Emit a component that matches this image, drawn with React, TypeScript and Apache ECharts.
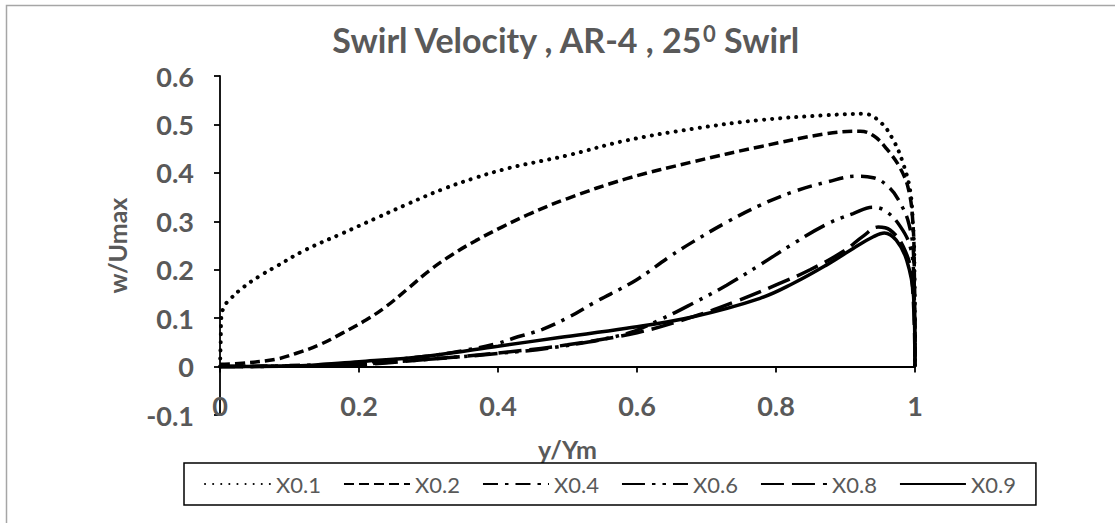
import React, { useEffect, useRef } from "react";
import * as echarts from "echarts";

const seriesNames = ["X0.1", "X0.2", "X0.4", "X0.6", "X0.8", "X0.9"];

const x01 = [0, 0.001, 0.002, 0.006, 0.013, 0.032, 0.056, 0.08, 0.123, 0.176, 0.224, 0.272, 0.32, 0.368, 0.416, 0.464, 0.5, 0.585, 0.681, 0.777, 0.873, 0.926, 0.95, 0.969, 0.983, 0.993, 0.997, 0.999, 1.0];
const y01 = [0, 0.05, 0.103, 0.124, 0.137, 0.162, 0.186, 0.206, 0.241, 0.275, 0.306, 0.337, 0.366, 0.39, 0.41, 0.425, 0.436, 0.467, 0.491, 0.509, 0.519, 0.522, 0.505, 0.467, 0.419, 0.364, 0.296, 0.227, 0];

const x02 = [0, 0.032, 0.08, 0.109, 0.143, 0.176, 0.21, 0.239, 0.272, 0.301, 0.335, 0.368, 0.407, 0.445, 0.5, 0.585, 0.681, 0.777, 0.873, 0.921, 0.94, 0.959, 0.979, 0.991, 0.997, 0.999, 1.0];
const y02 = [0.005, 0.007, 0.015, 0.027, 0.045, 0.069, 0.096, 0.124, 0.163, 0.198, 0.232, 0.26, 0.289, 0.315, 0.347, 0.388, 0.423, 0.454, 0.481, 0.486, 0.477, 0.45, 0.409, 0.364, 0.296, 0.2, 0];

const x04 = [0, 0.1, 0.2, 0.3, 0.35, 0.4, 0.421, 0.464, 0.503, 0.537, 0.599, 0.647, 0.681, 0.729, 0.777, 0.825, 0.873, 0.916, 0.94, 0.964, 0.979, 0.991, 0.998, 1.0];
const y04 = [0, 0.002, 0.008, 0.022, 0.033, 0.048, 0.058, 0.077, 0.103, 0.131, 0.179, 0.227, 0.258, 0.298, 0.333, 0.361, 0.381, 0.393, 0.39, 0.368, 0.337, 0.296, 0.227, 0];

const x06 = [0, 0.1, 0.2, 0.3, 0.4, 0.488, 0.585, 0.632, 0.681, 0.729, 0.777, 0.825, 0.873, 0.911, 0.94, 0.959, 0.979, 0.993, 0.998, 1.0];
const y06 = [0, 0.001, 0.005, 0.015, 0.027, 0.041, 0.068, 0.096, 0.131, 0.168, 0.21, 0.254, 0.294, 0.316, 0.329, 0.32, 0.289, 0.248, 0.193, 0];

const x08 = [0, 0.1, 0.2, 0.3, 0.4, 0.5, 0.6, 0.681, 0.743, 0.801, 0.849, 0.897, 0.926, 0.947, 0.964, 0.983, 0.995, 1.0];
const y08 = [0, 0.001, 0.004, 0.015, 0.028, 0.045, 0.07, 0.103, 0.135, 0.169, 0.2, 0.238, 0.27, 0.288, 0.282, 0.248, 0.189, 0];

const x09 = [0, 0.1, 0.2, 0.3, 0.4, 0.488, 0.585, 0.681, 0.777, 0.825, 0.873, 0.911, 0.94, 0.956, 0.973, 0.988, 0.998, 1.0];
const y09 = [0, 0.001, 0.01, 0.022, 0.042, 0.06, 0.079, 0.103, 0.141, 0.172, 0.21, 0.244, 0.268, 0.276, 0.261, 0.22, 0.144, 0];

const xTickInterval = 0.2;
const yTickInterval = 0.1;

const FONT = "Lato";
const GREY = "#595959";

function zip(xs: number[], ys: number[]) {
  return xs.map((x, i) => [x, ys[i]]);
}

export default function App() {
  const ref = useRef<HTMLDivElement>(null);
  useEffect(() => {
    document.body.style.margin = "0";
    const chart = echarts.init(ref.current!, null, { renderer: "svg" });
    const xsList = [x01, x02, x04, x06, x08, x09];
    const ysList = [y01, y02, y04, y06, y08, y09];
    const styles: any[] = [
      { type: [0.1, 8], cap: "round", width: 4 },
      { type: [10, 5], cap: "butt" },
      { type: [15, 7, 3.5, 7], cap: "butt" },
      { type: [23, 7, 3.5, 7, 3.5, 7], cap: "butt" },
      { type: [23, 8], cap: "butt" },
      { type: "solid", cap: "butt" },
    ];
    const series = seriesNames.map((name, i) => ({
      name,
      type: "line",
      data: zip(xsList[i], ysList[i]),
      symbol: "none",
      smooth: 0.4,
      lineStyle: { color: "#000", width: 3.5, ...styles[i] },
      itemStyle: { color: "#000" },
    }));
    const gridTop = 76;
    const gridHeight = 339;
    const yMin = -0.1;
    const yMax = 0.6;
    const zeroOffset = -(gridHeight * (0 - yMin)) / (yMax - yMin);
    chart.setOption({
      animation: false,
      backgroundColor: "#fff",
      title: {
        text: "Swirl Velocity , AR-4 , 25{sup|0} Swirl",
        left: 560,
        top: 17,
        textAlign: "center",
        textStyle: {
          fontFamily: FONT,
          fontWeight: "bold",
          fontSize: 34,
          color: GREY,
          rich: {
            sup: {
              fontFamily: FONT,
              fontWeight: "bold",
              fontSize: 22,
              color: GREY,
              verticalAlign: "top",
            },
          },
        },
      },
      graphic: [
        {
          type: "rect",
          silent: true,
          shape: { x: 6.5, y: 5.5, width: 2000, height: 2000 },
          style: { fill: "none", stroke: "#a6a6a6", lineWidth: 1.5 },
        },
      ],
      grid: { left: 220, top: gridTop, width: 695, height: gridHeight },
      legend: {
        left: 184,
        top: 463,
        itemWidth: 66,
        itemHeight: 14,
        itemGap: 22,
        padding: [10, 20],
        borderColor: "#000",
        borderWidth: 1.5,
        data: seriesNames,
        itemStyle: { opacity: 0 },
        textStyle: { fontFamily: FONT, fontSize: 22, color: GREY },
      },
      xAxis: {
        type: "value",
        min: 0,
        max: 1,
        interval: xTickInterval,
        position: "bottom",
        offset: zeroOffset,
        axisLine: { show: true, onZero: false, lineStyle: { color: "#000", width: 1.8 } },
        axisTick: { show: true, length: 6, lineStyle: { color: "#000", width: 1.8 } },
        axisLabel: { margin: 25, fontFamily: FONT, fontWeight: "bold", fontSize: 27, color: GREY },
        splitLine: { show: false },
        name: "y/Ym",
        nameLocation: "middle",
        nameGap: 70,
        nameTextStyle: { fontFamily: FONT, fontWeight: "bold", fontSize: 25, color: GREY },
      },
      yAxis: {
        type: "value",
        min: yMin,
        max: yMax,
        interval: yTickInterval,
        axisLine: { show: true, onZero: false, lineStyle: { color: "#000", width: 1.8 } },
        axisTick: { show: true, length: 6, lineStyle: { color: "#000", width: 1.8 } },
        axisLabel: { margin: 26, fontFamily: FONT, fontWeight: "bold", fontSize: 27, color: GREY },
        splitLine: { show: false },
        name: "w/Umax",
        nameLocation: "middle",
        nameGap: 91,
        nameTextStyle: { fontFamily: FONT, fontWeight: "bold", fontSize: 25, color: GREY },
      },
      series,
    });
    return () => chart.dispose();
  }, []);
  return <div ref={ref} style={{ width: 1115, height: 523 }} />;
}
